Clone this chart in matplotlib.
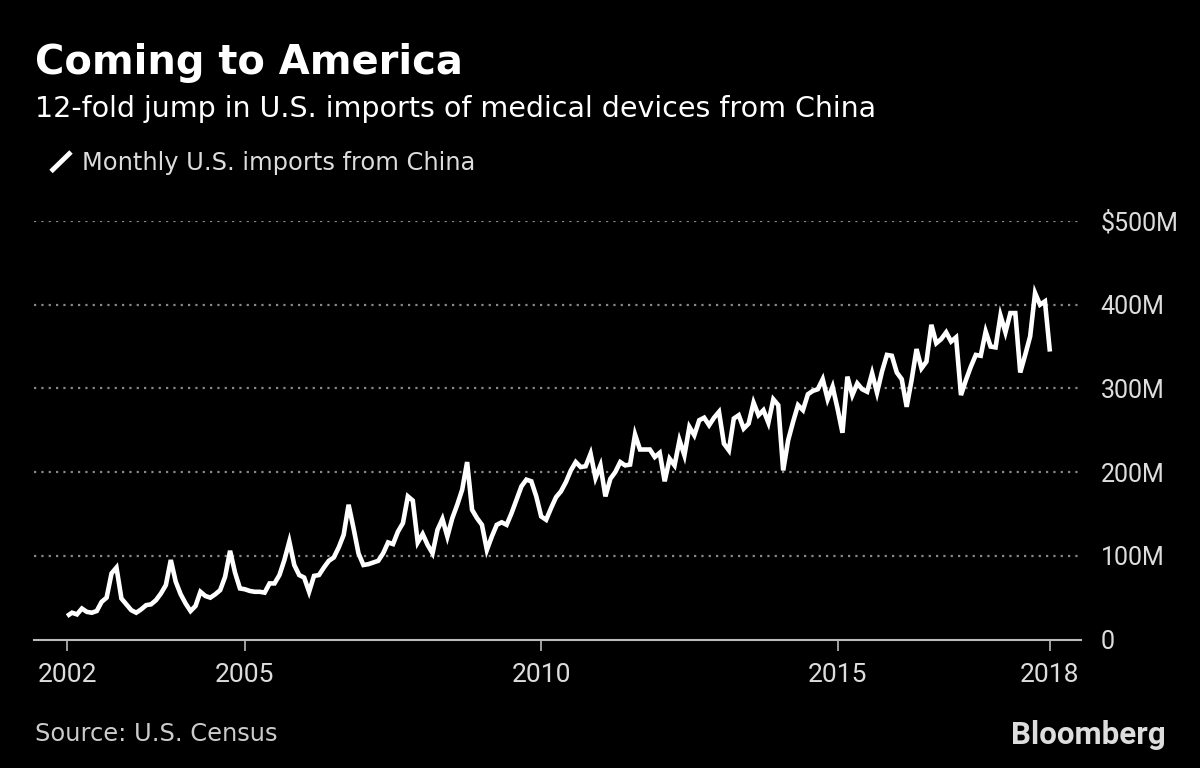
import numpy as np
import matplotlib
matplotlib.use("Agg")
import matplotlib.pyplot as plt
from matplotlib.lines import Line2D

# Monthly U.S. imports of medical devices from China, $M, Jan 2002 onward
start_year = 2002
imports_musd = [
    28, 32, 30, 37, 33, 32, 34, 45, 50, 79, 86, 49,            # 2002
    42, 35, 32, 36, 41, 42, 47, 55, 65, 95, 69, 54,            # 2003
    43, 34, 40, 57, 52, 50, 54, 59, 75, 106, 80, 61,           # 2004
    60, 58, 57, 57, 56, 67, 67, 77, 95, 117, 89, 77,           # 2005
    74, 57, 76, 77, 86, 94, 98, 110, 125, 161, 133, 103,       # 2006
    89, 90, 92, 94, 103, 116, 114, 129, 139, 171, 166, 116,    # 2007
    126, 113, 103, 131, 144, 123, 145, 161, 179, 212, 155, 145,  # 2008
    137, 107, 123, 137, 140, 137, 151, 167, 183, 191, 189, 171,  # 2009
    147, 143, 157, 170, 177, 188, 202, 212, 206, 207, 222, 193,  # 2010
    208, 171, 192, 200, 212, 208, 209, 245, 227, 227, 227, 218,  # 2011
    223, 189, 216, 208, 238, 220, 254, 244, 262, 265, 256, 265,  # 2012
    272, 234, 226, 264, 268, 252, 258, 283, 268, 274, 259, 287,  # 2013
    280, 202, 238, 260, 280, 274, 293, 297, 299, 311, 287, 302,  # 2014
    276, 247, 314, 292, 306, 299, 296, 318, 295, 320, 340, 339,  # 2015
    319, 311, 278, 310, 347, 324, 332, 376, 354, 359, 367, 356,  # 2016
    361, 292, 310, 326, 340, 339, 368, 350, 349, 387, 367, 390,  # 2017
    390, 319, 340, 362, 414, 400, 404, 344,                      # 2018
]
year_ticks = [2002, 2005, 2010, 2015]
y_ticks = [0, 100, 200, 300, 400, 500]
y_labels = ["0", "100M", "200M", "300M", "400M", "$500M"]

TEXT_FONT = ["DejaVu Sans"]
TICK_FONT = ["Roboto", "DejaVu Sans"]

W, H = 1200, 768
fig = plt.figure(figsize=(W / 100, H / 100), dpi=100, facecolor="black")
ax = fig.add_axes([34 / W, 1 - 639.5 / H, (1081 - 34) / W, (639.5 - 221) / H])
ax.set_facecolor("black")

x = start_year + np.arange(len(imports_musd)) / 12
ax.plot(x, imports_musd, color="white", linewidth=3.3, solid_joinstyle="miter",
        solid_capstyle="butt", zorder=3)

ax.set_xlim(x[0] - 6.7 / 12, x[-1] + 6.3 / 12)
ax.set_ylim(0, 500)

# x ticks: year starts plus the last data point labelled with its year
xt = list(year_ticks) + [x[-1]]
ax.set_xticks(xt)
ax.set_xticklabels([str(int(v)) for v in xt], family=TICK_FONT)
ax.tick_params(axis="x", colors="#bbbbbb", labelcolor="#dddddd", length=8,
               width=1.2, direction="out", pad=9, labelsize=19)

ax.yaxis.tick_right()
ax.set_yticks(y_ticks)
ax.set_yticklabels(y_labels, family=TICK_FONT)
ax.tick_params(axis="y", length=0, pad=14, labelsize=18, labelcolor="#dddddd")
for lbl in ax.get_yticklabels():
    lbl.set_horizontalalignment("left")

for s in ["top", "left", "right"]:
    ax.spines[s].set_visible(False)
ax.spines["bottom"].set_color("#bbbbbb")
ax.spines["bottom"].set_linewidth(1.5)

for v in y_ticks[1:]:
    ax.axhline(v, color="#888888", linewidth=1.6, linestyle=(0, (1, 2.3)), zorder=1)

# titles
fig.text(35 / W, 1 - 74.3 / H, "Coming to America", color="white", fontsize=28.8,
         fontweight="bold", va="baseline", ha="left", family=TEXT_FONT)
fig.text(35 / W, 1 - 117.3 / H, "12-fold jump in U.S. imports of medical devices from China",
         color="white", fontsize=20.5, va="baseline", ha="left", family=TEXT_FONT)

# legend
fig.add_artist(Line2D([51 / W, 71 / W], [1 - 171.5 / H, 1 - 152 / H], color="white",
                      linewidth=3.5, solid_capstyle="butt"))
fig.text(82 / W, 1 - 170 / H, "Monthly U.S. imports from China", color="#dddddd",
         fontsize=17.4, va="baseline", ha="left", family=TEXT_FONT)

# footer
fig.text(35 / W, 1 - 740.7 / H, "Source: U.S. Census", color="#cccccc", fontsize=17.4,
         va="baseline", ha="left", family=TEXT_FONT)
fig.text(1166 / W, 1 - 744 / H, "Bloomberg", color="#dddddd", fontsize=22.5,
         fontweight="bold", va="baseline", ha="right", family=["Roboto", "DejaVu Sans"])

fig.savefig("out.png", dpi=100, facecolor="black")
